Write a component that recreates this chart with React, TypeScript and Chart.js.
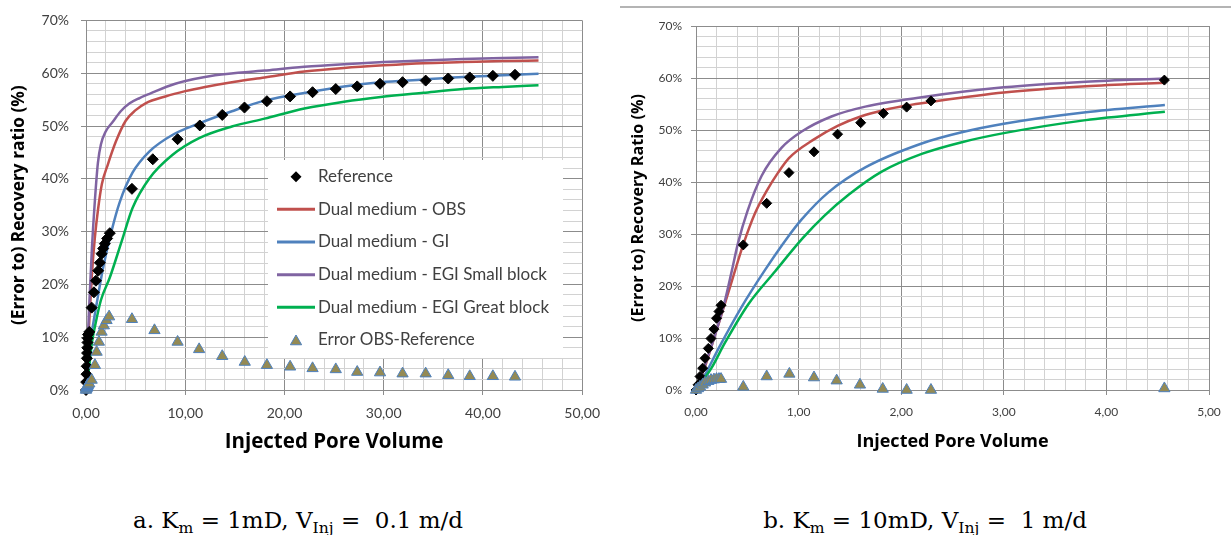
import React, { useEffect, useRef } from 'react';
import { Chart, registerables } from 'chart.js';

Chart.register(...registerables);

// ---------------- Chart a data (Km = 1mD, Vinj = 0.1 m/d) ----------------
const refA_x = [0, 0.02, 0.05, 0.07, 0.09, 0.11, 0.13, 0.15, 0.17, 0.2, 0.33, 0.57, 0.8, 1.0, 1.23, 1.4, 1.57, 1.73, 1.9, 2.13, 2.4, 4.63, 6.73, 9.23, 11.47, 13.73, 15.97, 18.23, 20.57, 22.83, 25.17, 27.33, 29.63, 31.9, 34.23, 36.5, 38.67, 41.0, 43.23];
const refA_y = [0, 1.5, 3, 4.5, 6, 7, 8, 9, 9.8, 10.5, 11.0, 15.6, 18.5, 20.7, 22.6, 24.1, 25.8, 26.8, 27.7, 28.7, 29.7, 38.1, 43.7, 47.5, 50.1, 52.1, 53.5, 54.7, 55.6, 56.4, 57.0, 57.5, 58.0, 58.3, 58.6, 59.0, 59.2, 59.5, 59.7];

const obsA_x = [0, 0.3, 0.6, 0.9, 1.2, 1.6, 2.2, 3.0, 4.0, 5.0, 6.0, 8.0, 10, 12, 15, 18, 22, 26, 30, 34, 38, 42, 45.6];
const obsA_y = [0, 12, 22, 29, 34, 39, 42.7, 47, 51, 53, 54.3, 55.6, 56.6, 57.4, 58.4, 59.2, 60.3, 61.0, 61.5, 61.9, 62.1, 62.3, 62.4];

const giA_x = [0, 0.23, 0.57, 1.07, 1.73, 2.57, 3.4, 4.7, 6.4, 8.7, 11.4, 14.7, 18, 22.4, 26, 29.7, 34, 38, 42, 45.6];
const giA_y = [0, 6.3, 10.7, 16.3, 23.2, 30.1, 35.6, 41.2, 45.2, 48.3, 50.5, 52.8, 54.8, 56.4, 57.5, 58.3, 58.8, 59.3, 59.6, 59.9];

const smallA_x = [0, 0.3, 0.6, 0.9, 1.2, 1.5, 2.0, 2.7, 3.5, 4.4, 5.4, 6.4, 9, 13, 18, 22, 26, 30, 34, 38, 42, 45.6];
const smallA_y = [0, 15, 27, 36, 43, 46.5, 49, 50.8, 52.8, 54.3, 55.3, 56.1, 58, 59.6, 60.5, 61.2, 61.7, 62.1, 62.4, 62.7, 62.9, 63.0];

const greatA_x = [0, 0.3, 0.6, 0.9, 1.5, 2.4, 3.6, 4.7, 6.4, 8.7, 11.4, 14.7, 18, 22, 26, 29.7, 34, 38, 42, 45.6];
const greatA_y = [0, 4, 9, 12, 17, 21.3, 28.2, 34.5, 40.1, 44.5, 47.7, 49.9, 51.4, 53.3, 54.6, 55.5, 56.3, 57.0, 57.4, 57.7];

const errA_x = [0, 0.02, 0.05, 0.07, 0.09, 0.11, 0.13, 0.15, 0.17, 0.2, 0.33, 0.57, 0.9, 1.07, 1.3, 1.57, 1.8, 2.07, 2.33, 4.63, 6.9, 9.23, 11.4, 13.73, 16.0, 18.23, 20.57, 22.83, 25.17, 27.33, 29.63, 31.9, 34.23, 36.5, 38.67, 41.0, 43.23];
const errA_y = [0, 0.2, 0.3, 0.4, 0.5, 0.6, 0.7, 0.8, 0.9, 1.0, 1.2, 1.9, 4.7, 7.2, 9.1, 11.0, 12.2, 13.2, 13.9, 13.4, 11.3, 9.1, 7.7, 6.4, 5.3, 4.7, 4.4, 4.1, 3.9, 3.4, 3.3, 3.1, 3.1, 2.8, 2.6, 2.6, 2.5];

// ---------------- Chart b data (Km = 10mD, Vinj = 1 m/d) ----------------
const refB_x = [0, 0.02, 0.039, 0.065, 0.088, 0.12, 0.146, 0.175, 0.2, 0.224, 0.244, 0.461, 0.689, 0.906, 1.15, 1.38, 1.605, 1.826, 2.053, 2.29, 4.565];
const refB_y = [0, 1.0, 2.6, 4.2, 6.1, 8.0, 9.9, 11.7, 13.8, 15.1, 16.3, 27.9, 35.9, 41.8, 45.8, 49.2, 51.4, 53.2, 54.4, 55.6, 59.6];

const obsB_x = [0, 0.1, 0.2, 0.244, 0.35, 0.461, 0.575, 0.689, 0.8, 0.906, 1.15, 1.38, 1.605, 1.826, 2.053, 2.29, 3.0, 3.8, 4.57];
const obsB_y = [0, 5.2, 11.5, 14.2, 21, 28.0, 34.0, 38.3, 41.8, 44.6, 48.2, 50.8, 52.6, 53.8, 54.7, 55.4, 57.2, 58.4, 59.1];

const giB_x = [0, 0.09, 0.22, 0.445, 0.67, 0.88, 1.03, 1.29, 1.65, 2.2, 2.6, 3.0, 3.8, 4.57];
const giB_y = [0, 3, 8, 16, 23, 29, 32.8, 38.0, 42.8, 47.4, 49.6, 51.2, 53.4, 54.8];

const smallB_x = [0, 0.1, 0.2, 0.28, 0.35, 0.41, 0.5, 0.64, 0.835, 1.03, 1.32, 1.65, 2.2, 3.0, 3.8, 4.57];
const smallB_y = [0, 5.5, 11.5, 17, 23, 28.3, 34.3, 41.2, 46.6, 49.7, 52.6, 54.5, 56.3, 58.2, 59.3, 59.9];

const greatB_x = [0, 0.15, 0.28, 0.51, 0.77, 1.04, 1.25, 1.49, 1.81, 2.2, 2.6, 3.0, 3.8, 4.57];
const greatB_y = [0, 4.2, 9.0, 16.5, 22.8, 29.2, 33.5, 37.6, 42.0, 45.4, 47.7, 49.4, 51.9, 53.5];

const errB_x = [0, 0.02, 0.039, 0.065, 0.088, 0.12, 0.146, 0.175, 0.2, 0.224, 0.244, 0.461, 0.689, 0.91, 1.15, 1.371, 1.598, 1.82, 2.053, 2.29, 4.565];
const errB_y = [0, 0.3, 0.6, 1.0, 1.4, 1.7, 1.9, 2.0, 2.1, 2.1, 2.1, 0.6, 2.6, 3.1, 2.4, 1.8, 1.0, 0.2, 0.0, 0.0, 0.3];

// ---------------- labels ----------------
const seriesLabels = ['Reference', 'Dual medium - OBS', 'Dual medium - GI', 'Dual medium - EGI Small block', 'Dual medium - EGI Great block', 'Error OBS-Reference'];
const yTitleA = '(Error to) Recovery ratio (%)';
const yTitleB = '(Error to) Recovery Ratio (%)';
const xTitle = 'Injected Pore Volume';

const C = {
  obs: '#c0504d',
  gi: '#4f81bd',
  small: '#8064a2',
  great: '#00b050',
  ref: '#000000',
  errFill: '#948a54',
  errBorder: '#4f81bd',
  major: '#8c8c8c',
  minor: '#d2d2d2',
  text: '#404040',
};

const TITLE_FONT = '"Open Sans"';

const pts = (xs: number[], ys: number[]) => xs.map((x, i) => ({ x, y: ys[i] }));

const near = (v: number, step: number) => Math.abs(v / step - Math.round(v / step)) < 1e-6;

function drawDiamond(ctx: CanvasRenderingContext2D, x: number, y: number, r: number) {
  ctx.beginPath();
  ctx.moveTo(x - r, y);
  ctx.lineTo(x, y - r);
  ctx.lineTo(x + r, y);
  ctx.lineTo(x, y + r);
  ctx.closePath();
  ctx.fillStyle = C.ref;
  ctx.fill();
}

function drawTriangle(ctx: CanvasRenderingContext2D, x: number, y: number, r: number) {
  ctx.beginPath();
  ctx.moveTo(x, y - r);
  ctx.lineTo(x + r * 0.866, y + r * 0.5);
  ctx.lineTo(x - r * 0.866, y + r * 0.5);
  ctx.closePath();
  ctx.fillStyle = C.errFill;
  ctx.fill();
  ctx.strokeStyle = C.errBorder;
  ctx.lineWidth = 1;
  ctx.stroke();
}

const legendPlugin = {
  id: 'insideLegend',
  afterDraw(chart: any) {
    const ctx: CanvasRenderingContext2D = chart.ctx;
    ctx.save();
    ctx.fillStyle = '#ffffff';
    ctx.fillRect(268, 160, 295, 198);
    const ys = [176.7, 209.3, 242, 274.7, 307.3, 340];
    const lineColors = [null, C.obs, C.gi, C.small, C.great, null];
    ctx.font = '17px Lato';
    ctx.textBaseline = 'middle';
    ctx.textAlign = 'left';
    seriesLabels.forEach((lab, i) => {
      const y = ys[i];
      if (i === 0) drawDiamond(ctx, 296, y, 5.5);
      else if (i === 5) drawTriangle(ctx, 296, y + 1.5, 6.5);
      else {
        ctx.beginPath();
        ctx.moveTo(277, y);
        ctx.lineTo(315, y);
        ctx.strokeStyle = lineColors[i] as string;
        ctx.lineWidth = 3;
        ctx.stroke();
      }
      ctx.fillStyle = C.text;
      ctx.fillText(lab, 318, y);
    });
    ctx.restore();
  },
};

type Spec = {
  ref: [number[], number[]];
  obs: [number[], number[]];
  gi: [number[], number[]];
  small: [number[], number[]];
  great: [number[], number[]];
  err: [number[], number[]];
  xMax: number;
  xStep: number;
  xMajor: number;
  padding: { left: number; top: number; right: number; bottom: number };
  yWidth: number;
  xHeight: number;
  tickFont: number;
  yTickPad: number;
  xTickPad: number;
  yTitle: string;
  yTitleFont: number;
  yTitlePad: number;
  xTitleFont: number;
  xTitlePad: number;
  diamond: number;
  tri: number;
  legend: boolean;
};

function makeConfig(s: Spec): any {
  const lineDs = (label: string, d: [number[], number[]], color: string, order: number) => ({
    label,
    data: pts(d[0], d[1]),
    borderColor: color,
    backgroundColor: color,
    borderWidth: 2.5,
    pointRadius: 0,
    cubicInterpolationMode: 'monotone',
    fill: false,
    order,
  });
  const gridColor = (major: number) => (c: any) => {
    const v = c.tick ? c.tick.value : 0;
    return near(v, major) ? C.major : C.minor;
  };
  const tickColor = (major: number) => (c: any) => {
    const v = c.tick ? c.tick.value : 0;
    return near(v, major) ? C.major : 'rgba(0,0,0,0)';
  };
  return {
    type: 'line',
    data: {
      datasets: [
        {
          label: seriesLabels[5],
          data: pts(s.err[0], s.err[1]),
          showLine: false,
          pointStyle: 'triangle',
          pointRadius: s.tri,
          pointBackgroundColor: C.errFill,
          pointBorderColor: C.errBorder,
          pointBorderWidth: 1,
          backgroundColor: C.errFill,
          borderColor: C.errBorder,
          clip: false,
          order: 0,
        },
        {
          label: seriesLabels[0],
          data: pts(s.ref[0], s.ref[1]),
          showLine: false,
          pointStyle: 'rectRot',
          pointRadius: s.diamond,
          pointBackgroundColor: C.ref,
          pointBorderColor: C.ref,
          pointBorderWidth: 1,
          backgroundColor: C.ref,
          borderColor: C.ref,
          clip: false,
          order: 1,
        },
        lineDs(seriesLabels[4], s.great, C.great, 2),
        lineDs(seriesLabels[3], s.small, C.small, 3),
        lineDs(seriesLabels[2], s.gi, C.gi, 4),
        lineDs(seriesLabels[1], s.obs, C.obs, 5),
      ],
    },
    options: {
      responsive: false,
      animation: false,
      events: [],
      layout: { padding: s.padding },
      plugins: { legend: { display: false }, tooltip: { enabled: false }, title: { display: false } },
      scales: {
        x: {
          type: 'linear',
          min: 0,
          max: s.xMax,
          afterFit: (sc: any) => {
            sc.height = s.xHeight;
          },
          ticks: {
            stepSize: s.xStep,
            autoSkip: false,
            maxRotation: 0,
            minRotation: 0,
            padding: s.xTickPad,
            color: C.text,
            font: { family: 'Lato', size: s.tickFont },
            callback: (v: any) => (near(Number(v), s.xMajor) ? Number(v).toFixed(2).replace('.', ',') : ''),
          },
          grid: { color: gridColor(s.xMajor), tickColor: tickColor(s.xMajor), tickLength: 5, lineWidth: 1 },
          border: { color: C.major, width: 1 },
          title: {
            display: true,
            text: xTitle,
            color: '#000',
            font: { family: TITLE_FONT, size: s.xTitleFont, weight: 'bold' },
            padding: { top: 0, bottom: s.xTitlePad },
          },
        },
        y: {
          type: 'linear',
          min: 0,
          max: 70,
          afterFit: (sc: any) => {
            sc.width = s.yWidth;
          },
          ticks: {
            stepSize: 2,
            autoSkip: false,
            padding: s.yTickPad,
            color: C.text,
            font: { family: 'Lato', size: s.tickFont },
            callback: (v: any) => (near(Number(v), 10) ? Math.round(Number(v)) + '%' : ''),
          },
          grid: { color: gridColor(10), tickColor: tickColor(10), tickLength: 5, lineWidth: 1 },
          border: { color: C.major, width: 1 },
          title: {
            display: true,
            text: s.yTitle,
            color: '#000',
            font: { family: TITLE_FONT, size: s.yTitleFont, weight: 'bold' },
            padding: { top: s.yTitlePad, bottom: 0 },
          },
        },
      },
    },
    plugins: s.legend ? [legendPlugin] : [],
  };
}

const specA: Spec = {
  ref: [refA_x, refA_y],
  obs: [obsA_x, obsA_y],
  gi: [giA_x, giA_y],
  small: [smallA_x, smallA_y],
  great: [greatA_x, greatA_y],
  err: [errA_x, errA_y],
  xMax: 50,
  xStep: 2,
  xMajor: 10,
  padding: { left: 0, top: 18, right: 24, bottom: 0 },
  yWidth: 86,
  xHeight: 70,
  tickFont: 14,
  yTickPad: 12,
  xTickPad: 10,
  yTitle: yTitleA,
  yTitleFont: 17.3,
  yTitlePad: 9,
  xTitleFont: 20.5,
  xTitlePad: 6,
  diamond: 5.5,
  tri: 6.5,
  legend: true,
};

const specB: Spec = {
  ref: [refB_x, refB_y],
  obs: [obsB_x, obsB_y],
  gi: [giB_x, giB_y],
  small: [smallB_x, smallB_y],
  great: [greatB_x, greatB_y],
  err: [errB_x, errB_y],
  xMax: 5,
  xStep: 0.2,
  xMajor: 1,
  padding: { left: 0, top: 26, right: 22, bottom: 0 },
  yWidth: 81,
  xHeight: 70,
  tickFont: 12,
  yTickPad: 9,
  xTickPad: 10,
  yTitle: yTitleB,
  yTitleFont: 16.2,
  yTitlePad: 14,
  xTitleFont: 18,
  xTitlePad: 7,
  diamond: 5,
  tri: 6.5,
  legend: false,
};

const subStyle: React.CSSProperties = { fontSize: '0.68em', verticalAlign: '-0.3em' };

const captionStyle = (left: number): React.CSSProperties => ({
  position: 'absolute',
  left,
  top: 507,
  width: 596,
  textAlign: 'center',
  font: '23px "DejaVu Serif"',
  lineHeight: '26px',
  color: '#000',
  whiteSpace: 'pre',
});

export default function App() {
  const refA = useRef<HTMLCanvasElement | null>(null);
  const refB = useRef<HTMLCanvasElement | null>(null);

  useEffect(() => {
    const a = new Chart(refA.current as HTMLCanvasElement, makeConfig(specA));
    const b = new Chart(refB.current as HTMLCanvasElement, makeConfig(specB));
    return () => {
      a.destroy();
      b.destroy();
    };
  }, []);

  return (
    <div style={{ position: 'absolute', left: 0, top: 0, width: 1231, height: 535, background: '#fff', overflow: 'hidden' }}>
      <canvas ref={refA} width={610} height={460} style={{ position: 'absolute', left: 0, top: 0, width: 610, height: 460 }} />
      <canvas ref={refB} width={616} height={460} style={{ position: 'absolute', left: 615, top: 0, width: 616, height: 460 }} />
      <div style={{ position: 'absolute', left: 620, top: 6, width: 611, height: 2, background: '#b4b4b4' }} />
      <div style={captionStyle(0)}>
        {'a. K'}<span style={subStyle}>m</span>{' = 1mD, V'}<span style={subStyle}>Inj</span>{' =  0.1 m/d'}
      </div>
      <div style={captionStyle(627)}>
        {'b. K'}<span style={subStyle}>m</span>{' = 10mD, V'}<span style={subStyle}>Inj</span>{' =  1 m/d'}
      </div>
    </div>
  );
}
